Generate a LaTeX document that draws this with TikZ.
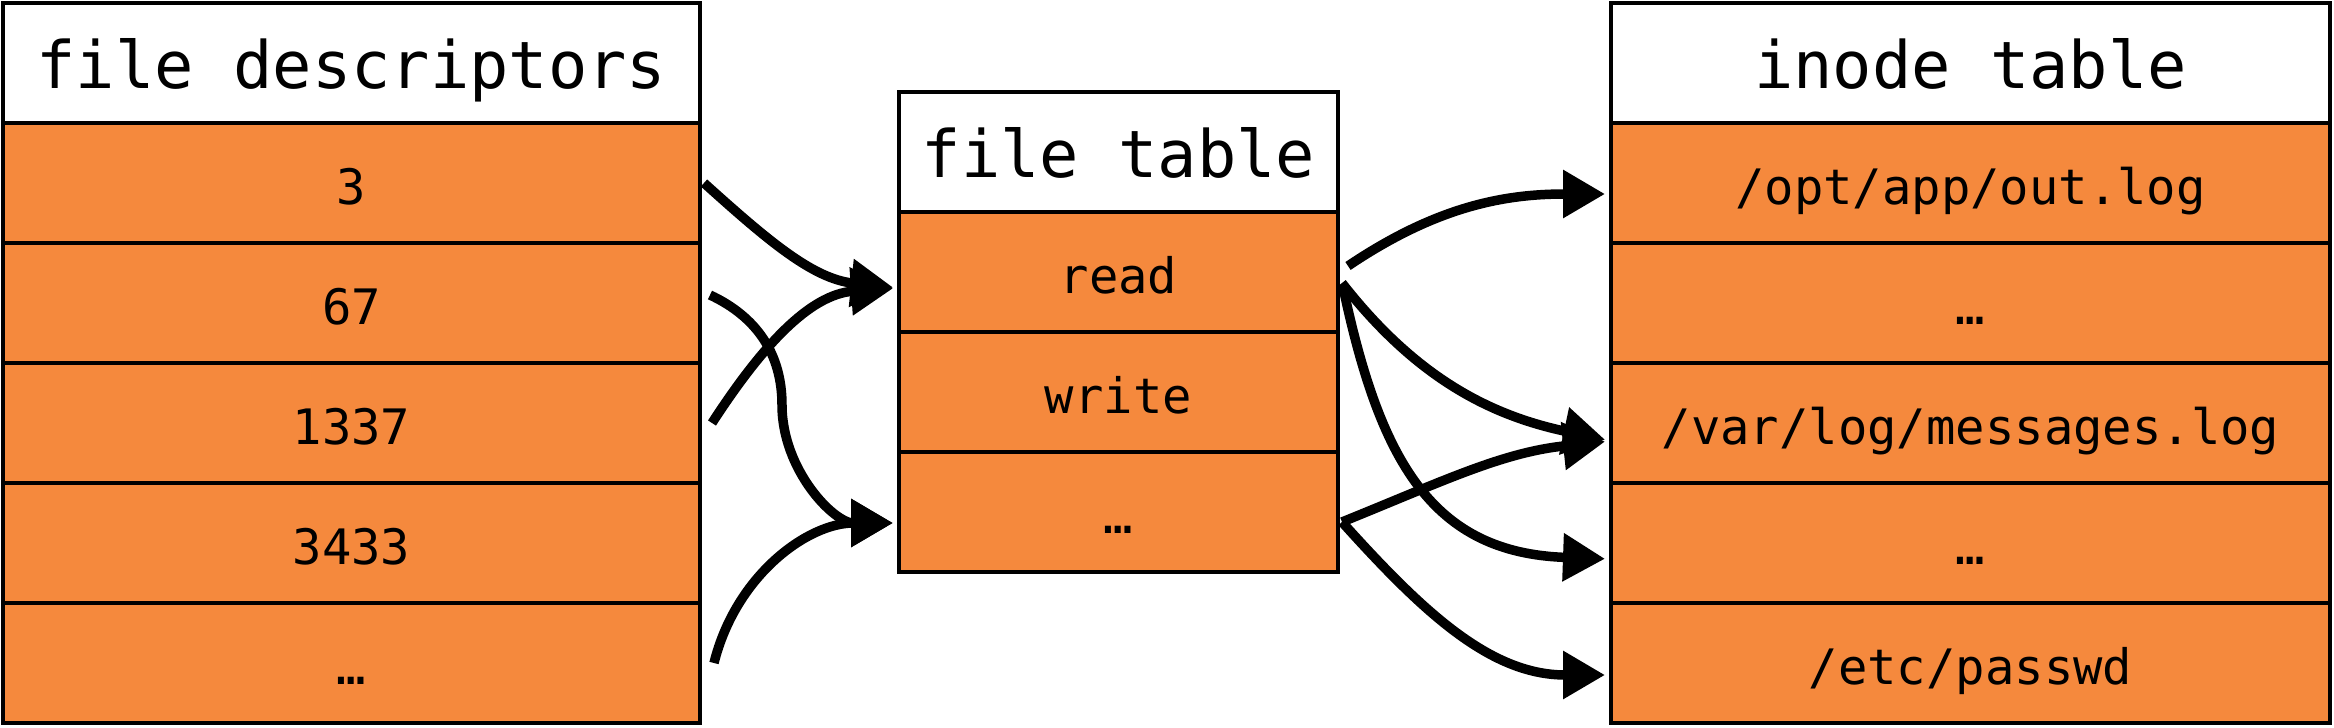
\documentclass[tikz,border=0pt]{standalone}
\usepackage{fontspec}
\setmonofont{DejaVu Sans Mono}
\usetikzlibrary{positioning,arrows.meta}
\definecolor{fdorange}{RGB}{245,137,61}
\tikzstyle{every node}=[font=\fontsize{13.9}{16}\selectfont\ttfamily,inner sep=0pt,outer sep=0pt]
\tikzstyle{cell} = [draw,line width=1.2pt,fill=fdorange,minimum height=1.2cm,text height=0.44cm,text depth=0pt]
\tikzstyle{head} = [cell,fill=white,font=\fontsize{18.6}{22}\selectfont\ttfamily,text height=0.52cm]
\tikzstyle{link} = [line width=2.7pt,-{Triangle[length=4.2mm,width=4.6mm]},shorten >=0.6mm]

\begin{document}
\begin{tikzpicture}
\useasboundingbox (0,0) rectangle (23.34,-7.28);

% file descriptors
\node[head,minimum width=6.97cm] (fdhead) at (3.515,-0.63) {file descriptors};
\node[cell,minimum width=6.97cm,below=0pt of fdhead] (fd3) {3};
\node[cell,minimum width=6.97cm,below=0pt of fd3] (fd67) {67};
\node[cell,minimum width=6.97cm,below=0pt of fd67] (fd1337) {1337};
\node[cell,minimum width=6.97cm,below=0pt of fd1337] (fd3433) {3433};
\node[cell,minimum width=6.97cm,below=0pt of fd3433] (fddots) {…};

% file table
\node[head,minimum width=4.39cm] (fthead) at (11.185,-1.52) {file table};
\node[cell,minimum width=4.39cm,below=0pt of fthead] (ftread) {read};
\node[cell,minimum width=4.39cm,below=0pt of ftread] (ftwrite) {write};
\node[cell,minimum width=4.39cm,below=0pt of ftwrite] (ftdots) {…};

% inode table
\node[head,minimum width=7.19cm] (inhead) at (19.705,-0.63) {inode table};
\node[cell,minimum width=7.19cm,below=0pt of inhead] (inout) {/opt/app/out.log};
\node[cell,minimum width=7.19cm,below=0pt of inout] (indotsa) {…};
\node[cell,minimum width=7.19cm,below=0pt of indotsa] (inmsg) {/var/log/messages.log};
\node[cell,minimum width=7.19cm,below=0pt of inmsg] (indotsb) {…};
\node[cell,minimum width=7.19cm,below=0pt of indotsb] (inpasswd) {/etc/passwd};

% descriptors -> file table
\draw[link] ([xshift=0.4mm]fd3.east) to[out=-42,in=174] ([yshift=-1.6mm]ftread.west);
\draw[link] ([shift={(1mm,0.8mm)}]fd67.east) to[out=-25,in=90] (7.82,-4.05) to[out=-90,in=180] ([yshift=-1.1mm]ftdots.west);
\draw[link] ([xshift=1.2mm]fd1337.east) to[out=57,in=184] ([yshift=-1.6mm]ftread.west);
\draw[link] ([xshift=1.4mm]fddots.east) to[out=76,in=180] ([yshift=-1.1mm]ftdots.west);

% file table -> inodes
\draw[link] ([shift={(1mm,0.6mm)}]ftread.east) to[out=34,in=180] ([yshift=-1.1mm]inout.west);
\draw[link] ([shift={(0.4mm,-1.1mm)}]ftread.east) to[out=-52,in=168] ([yshift=-1.8mm]inmsg.west);
\draw[link] ([shift={(0.5mm,-1.5mm)}]ftread.east) to[out=-78,in=178,looseness=1.2] ([yshift=-1.6mm]indotsb.west);
\draw[link] ([shift={(0.4mm,-1mm)}]ftdots.east) to[out=22,in=186] ([yshift=-1.8mm]inmsg.west);
\draw[link] ([shift={(0.4mm,-1mm)}]ftdots.east) to[out=-48,in=180] ([yshift=-1.2mm]inpasswd.west);

\end{tikzpicture}
\end{document}
